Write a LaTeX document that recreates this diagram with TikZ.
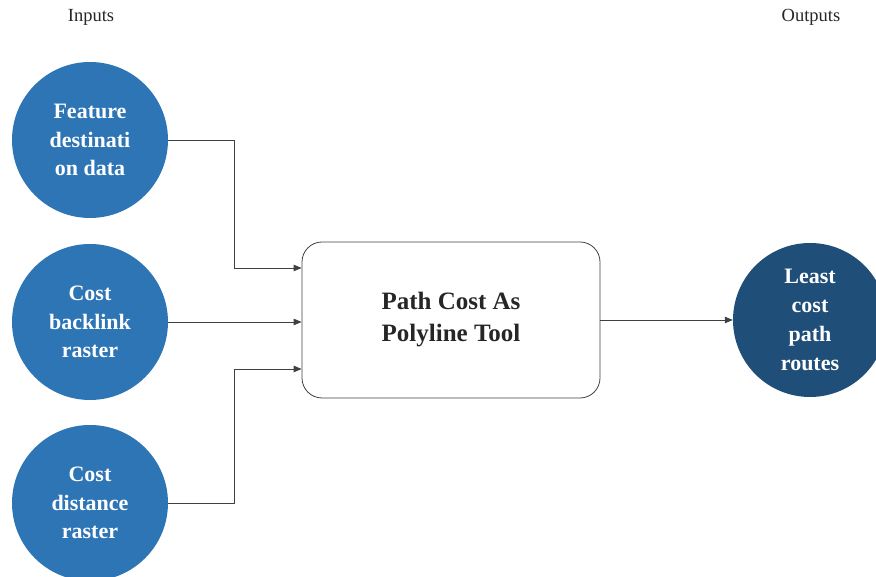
\documentclass[tikz,border=0pt]{standalone}
\usepackage{fontspec}
\setmainfont{Liberation Serif}
\usetikzlibrary{arrows.meta,calc}
\definecolor{inblue}{HTML}{2E75B6}
\definecolor{outblue}{HTML}{1F4E79}
\definecolor{linegray}{HTML}{404040}
\begin{document}
\begin{tikzpicture}[x=1pt,y=1pt,
  incirc/.style={circle,fill=inblue,minimum size=156pt,inner sep=0pt,text=white,align=center,
    font=\bfseries\fontsize{22}{28.5}\selectfont},
  outcirc/.style={circle,fill=outblue,minimum size=154pt,inner sep=0pt,text=white,align=center,
    font=\bfseries\fontsize{22}{29}\selectfont},
  toolbox/.style={draw=linegray,line width=0.8pt,rounded corners=20pt,minimum width=298pt,minimum height=156pt,
    align=center,text=black!85,font=\bfseries\fontsize{25}{32}\selectfont},
  conn/.style={draw=linegray,line width=0.8pt,-{Triangle[length=8pt,width=6.5pt]}},
  lbl/.style={font=\fontsize{18.5}{20}\selectfont,text=black!85}]
\useasboundingbox (0,0) rectangle (876,577);
\node[lbl] (inl) at (91,560) {Inputs};
\node[lbl] (outl) at (811,560) {Outputs};
\node[incirc] (f1) at (90,437) {Feature\\destinati\\on data};
\node[incirc] (f2) at (90,255) {Cost\\backlink\\raster};
\node[incirc] (f3) at (90,74) {Cost\\distance\\raster};
\node[toolbox] (box) at (451,257) {Path Cost As\\Polyline Tool};
\node[outcirc] (out) at (810,257) {Least\\cost\\path\\routes};
\draw[conn] (f1.east) -| ($(box.west)+(-67,52)$) -- ([yshift=52pt]box.west);
\draw[conn] (f2.east) -- (f2.east -| box.west);
\draw[conn] (f3.east) -| ($(box.west)+(-67,-49)$) -- ([yshift=-49pt]box.west);
\draw[conn] (box.east) -- (out.west);
\end{tikzpicture}
\end{document}
